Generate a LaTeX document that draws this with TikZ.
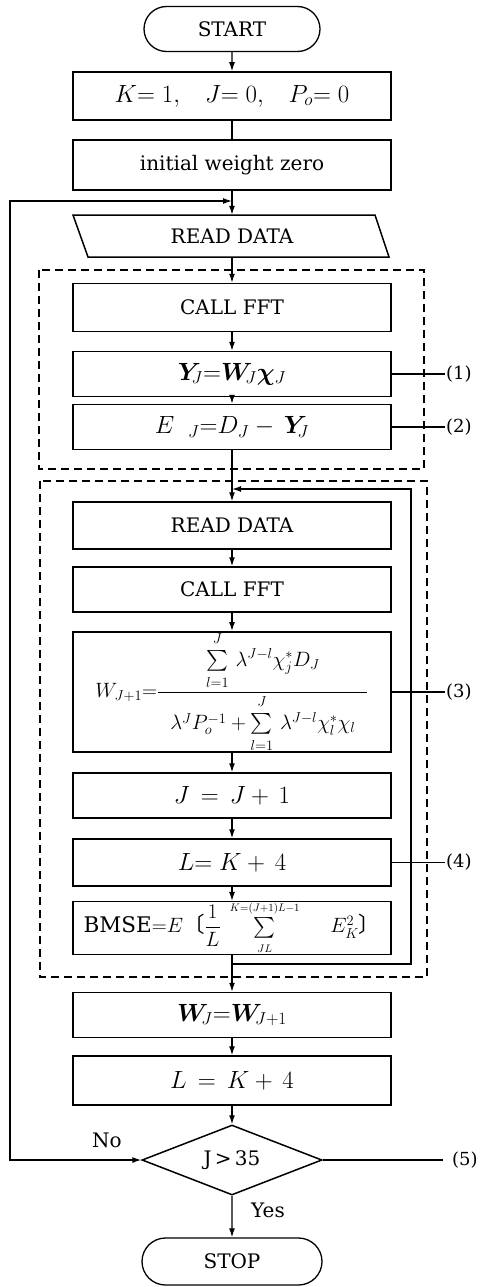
\documentclass[tikz,border=0pt]{standalone}
\usepackage{amsmath}
\usepackage{bm}
\usepackage{fontspec}
\setmainfont{DejaVu Serif}
\newfontfamily\cjkfont{Noto Sans CJK JP}
\usetikzlibrary{shapes.geometric,shapes.misc,arrows.meta}
\newcommand{\uplim}[1]{\raisebox{3pt}{$\scriptstyle #1$}}
\newcommand{\lolim}[1]{\raisebox{-3pt}{$\scriptstyle #1$}}
\begin{document}
\begin{tikzpicture}[x=1pt,y=-1pt,
  every node/.style={font=\fontsize{20}{24}\selectfont},
  mathfont/.style={font=\fontsize{23}{27}\selectfont},
  proc/.style={draw,line width=1.5pt,rectangle,minimum width=318pt,minimum height=46pt,inner sep=0pt},
  term/.style={draw,line width=1.3pt,rounded rectangle,minimum width=176pt,minimum height=45pt,inner sep=0pt},
  dec/.style={draw,line width=1.5pt,diamond,aspect=2.57,minimum width=180pt,minimum height=70pt,inner sep=0pt},
  conn/.style={line width=1.3pt},
  arr/.style={conn,-{Latex[length=9pt,width=6pt]}},
  grp/.style={line width=1.2pt,dash pattern=on 8pt off 5pt},
  lbl/.style={font=\fontsize{18}{22}\selectfont,anchor=west,inner sep=1pt}
]
\useasboundingbox (0,0) rectangle (482,1287);

% nodes
\node[term] (start) at (232,29) {START};
\node[proc,mathfont,minimum height=48pt] (k) at (232,96) {$K{=}\;1,\;\;\; J{=}\;0,\;\;\; P_o{=}\;0$};
\node[proc,minimum height=50pt] (init) at (232,165) {initial weight zero};
\node[minimum width=300pt,minimum height=42pt,inner sep=0pt] (rd1) at (232,236) {READ DATA};
\draw[line width=1.5pt] (73,215) -- (375,215) -- (389,257) -- (88,257) -- cycle;
\node[proc,minimum height=48pt] (fft1) at (232,307.5) {CALL FFT};
\node[proc,mathfont,minimum height=45pt] (y) at (232,374) {$\bm{Y}_{\!J}{=}\bm{W}_{\!J}\bm{\chi}_J$};
\node[proc,mathfont,minimum height=45pt] (e) at (232,427) {$E\;\;_{J}{=}D_J-\,\bm{Y}_{\!J}$};
\node[proc,minimum height=47pt] (rd2) at (232,525.5) {READ DATA};
\node[proc,minimum height=45pt] (fft2) at (232,589.5) {CALL FFT};
\node[proc,minimum height=120pt,font=\fontsize{20.5}{24}\selectfont] (form) at (232,692)
  {$W_{J+1}{=}\dfrac{\textstyle\sum\limits_{\lolim{l=1}}^{\uplim{J}}\,\lambda^{J-l}\chi_j^{*}D_J}{\rule{0pt}{25pt}\hspace{12pt}\lambda^{J}P_o^{-1}+\textstyle\sum\limits_{\lolim{l=1}}^{\uplim{J}}\,\lambda^{J-l}\chi_l^{*}\chi_l\hspace{12pt}}$};
\node[proc,mathfont,minimum height=45pt] (jj) at (232,795.5) {$J\,=\,J+\,1$};
\node[proc,mathfont,minimum height=47pt] (ll) at (232,862.5) {$L{=}\;K+\,4$};
\node[proc,minimum height=50pt,font=\fontsize{21.5}{25}\selectfont] (bmse) at (232,928)
  {$\mathrm{BMSE}{=}E$\hbox{\cjkfont 〔}$\dfrac{1}{L}\;\textstyle\sum\limits_{\raisebox{-2pt}{$\scriptscriptstyle JL$}}^{\raisebox{1pt}{$\scriptscriptstyle K=(J+1)L-1$}}\quad\; E_K^{2}$\hbox{\cjkfont 〕}};
\node[proc,mathfont,minimum height=45pt] (w) at (232,1015) {$\bm{W}_{\!J}{=}\bm{W}_{\!J+1}$};
\node[proc,mathfont,minimum height=49pt] (l2) at (232,1080.5) {$L\,=\,K+\,4$};
\node[dec] (dia) at (232,1160) {J\,>\,35};
\node[term,minimum width=180pt,minimum height=47pt] (stop) at (232,1261.5) {STOP};

% group frames
\draw[grp] (39,270) rectangle (424,469);
\draw[grp] (40,481) rectangle (427,977);

% junction coordinates
\coordinate (j1) at (232,201);
\coordinate (j2) at (232,489);
\coordinate (b2) at (232,964);
\coordinate (c1) at (445,374);
\coordinate (c2) at (445,427);
\coordinate (c3) at (445,692);
\coordinate (c4) at (445,862.5);
\coordinate (c5) at (443,1160);
\coordinate (c5l) at (451,1160);

% main flow
\draw[arr] (start) -- (k);
\draw[conn] (k) -- (init);
\draw[arr] (init) -- (rd1);
\draw[arr] (rd1) -- (fft1);
\draw[arr] (fft1) -- (y);
\draw[arr] (y) -- (e);
\draw[arr] (e) -- (rd2);
\draw[arr] (rd2) -- (fft2);
\draw[arr] (fft2) -- (form);
\draw[arr] (form) -- (jj);
\draw[arr] (jj) -- (ll);
\draw[arr] (ll) -- (bmse);
\draw[arr] (bmse) -- (w);
\draw[arr] (w) -- (l2);
\draw[arr] (l2) -- (dia);
\draw[arr] (dia) -- (stop);

% loops
\draw[arr] (b2) -- (411,964) -- (411,489) -- (j2);
\draw[conn,{Latex[length=9pt,width=6pt]}-{Latex[length=9pt,width=6pt]}] (dia.west) -- (10,1160) |- (j1);

% labels
\node (no) at (107,1140) {No};
\node (yes) at (268,1210) {Yes};

\draw[conn] (y.east) -- (c1);
\draw[conn] (e.east) -- (c2);
\draw[conn] (form.east) -- (c3);
\draw[conn] (ll.east) -- (c4);
\draw[conn] (dia.east) -- (c5);
\node[lbl] (n1) at (c1) {(1)};
\node[lbl] (n2) at (c2) {(2)};
\node[lbl] (n3) at (c3) {(3)};
\node[lbl] (n4) at (c4) {(4)};
\node[lbl] (n5) at (c5l) {(5)};
\end{tikzpicture}
\end{document}
